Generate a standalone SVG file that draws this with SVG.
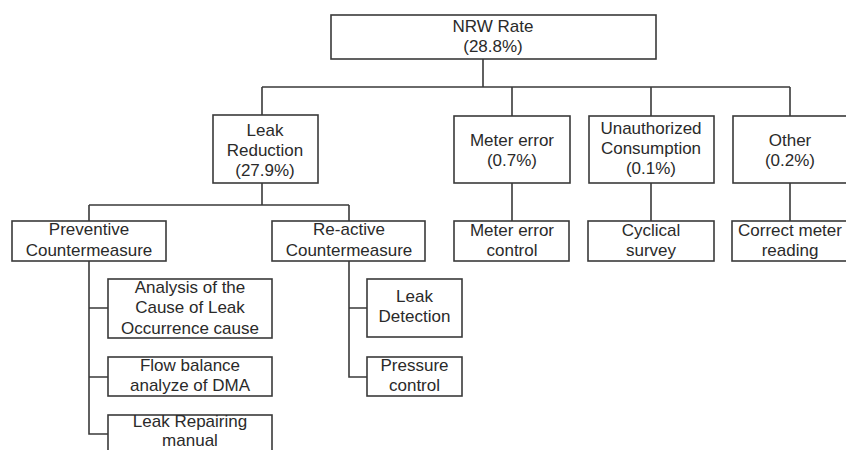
<svg xmlns="http://www.w3.org/2000/svg" width="846" height="450" viewBox="0 0 846 450">
<style>
.box{fill:#fff;stroke:#3a3a3a;stroke-width:1.6}
.ln{fill:none;stroke:#3a3a3a;stroke-width:1.6}
text{font-family:"Liberation Sans",Arial,sans-serif;font-size:17px;fill:#2a2a2a;text-anchor:middle}
</style>
<rect width="846" height="450" fill="#fff"/>
<g id="connectors">
<path class="ln" d="M483 59V87M262 87H790M262 87V115M512 87V116M651 87V116M790 87V116"/>
<path class="ln" d="M512 183V221M651 183V221M790 183V221"/>
<path class="ln" d="M262 183V205M89 205H349M89 205V221M349 205V221"/>
<path class="ln" d="M89 261V434H108M89 308H108M89 377H108"/>
<path class="ln" d="M349 261V377H367M349 308H367"/>
</g>
<g id="nrw"><rect class="box" x="331" y="15" width="325" height="44"/><text x="493" y="32">NRW Rate</text><text x="493" y="52">(28.8%)</text></g>
<g id="leak-reduction"><rect class="box" x="213" y="115" width="105" height="68"/><text x="265" y="136">Leak</text><text x="265" y="156">Reduction</text><text x="265" y="176">(27.9%)</text></g>
<g id="meter-error"><rect class="box" x="454" y="116" width="116" height="67"/><text x="512" y="146">Meter error</text><text x="512" y="166">(0.7%)</text></g>
<g id="unauthorized"><rect class="box" x="589" y="116" width="125" height="67"/><text x="651" y="134">Unauthorized</text><text x="651" y="154">Consumption</text><text x="651" y="174">(0.1%)</text></g>
<g id="other"><rect class="box" x="733" y="116" width="120" height="67"/><text x="790" y="146">Other</text><text x="790" y="166">(0.2%)</text></g>
<g id="meter-error-control"><rect class="box" x="454" y="221" width="115" height="40"/><text x="512" y="236">Meter error</text><text x="512" y="256">control</text></g>
<g id="cyclical-survey"><rect class="box" x="588" y="221" width="126" height="40"/><text x="651" y="236">Cyclical</text><text x="651" y="256">survey</text></g>
<g id="correct-meter-reading"><rect class="box" x="732" y="221" width="120" height="40"/><text x="790" y="236">Correct meter</text><text x="790" y="256">reading</text></g>
<g id="preventive"><rect class="box" x="12" y="221" width="154" height="40"/><text x="89" y="235">Preventive</text><text x="89" y="256">Countermeasure</text></g>
<g id="reactive"><rect class="box" x="272" y="221" width="153" height="40"/><text x="349" y="235">Re-active</text><text x="349" y="256">Countermeasure</text></g>
<g id="analysis"><rect class="box" x="108" y="279" width="164" height="59"/><text x="190" y="293">Analysis of the</text><text x="190" y="313">Cause of Leak</text><text x="190" y="334">Occurrence cause</text></g>
<g id="flow-balance"><rect class="box" x="108" y="357" width="164" height="39"/><text x="190" y="371">Flow balance</text><text x="190" y="391">analyze of DMA</text></g>
<g id="leak-repairing"><rect class="box" x="108" y="415" width="164" height="45"/><text x="190" y="427">Leak Repairing</text><text x="190" y="446">manual</text></g>
<g id="leak-detection"><rect class="box" x="367" y="279" width="95" height="58"/><text x="414.5" y="302">Leak</text><text x="414.5" y="322">Detection</text></g>
<g id="pressure-control"><rect class="box" x="367" y="357" width="95" height="39"/><text x="414.5" y="371">Pressure</text><text x="414.5" y="391">control</text></g>
</svg>
